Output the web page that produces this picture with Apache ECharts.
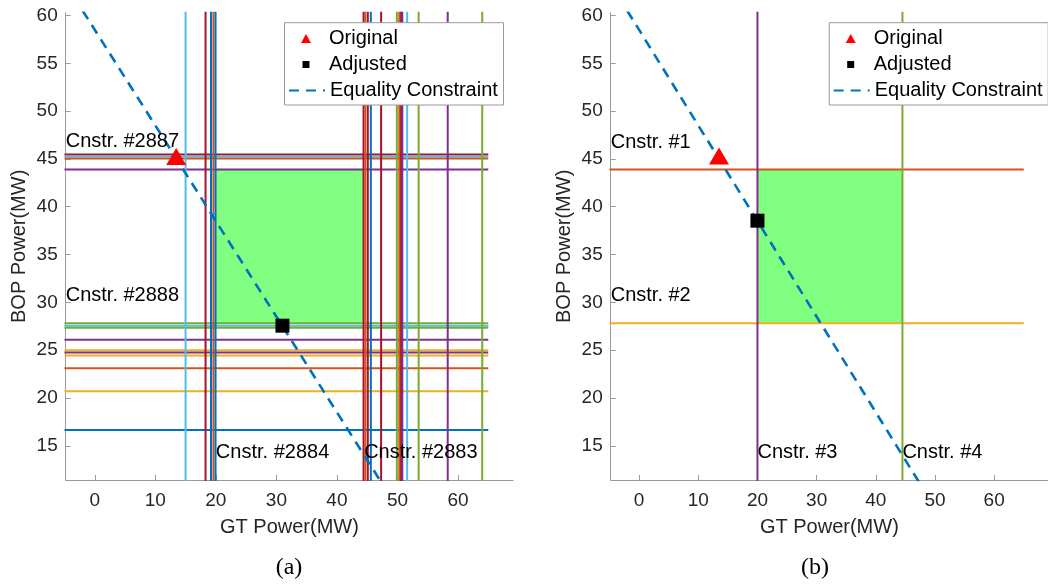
<!DOCTYPE html>
<html><head><meta charset="utf-8">
<script src="https://cdn.jsdelivr.net/npm/echarts@6/dist/echarts.min.js"></script>
<style>html,body{margin:0;padding:0;background:#fff}#c{width:1048px;height:584px}</style>
</head><body><div id="c"></div>
<script>
// ---------- data ----------
const xTicks = [0, 10, 20, 30, 40, 50, 60];
const yTicks = [15, 20, 25, 30, 35, 40, 45, 50, 55, 60];
const xRange = [-4.8, 69.1];
const yRange = [11.42, 60.29];
const hSpan = [-5, 65];          // GT extent of horizontal (BOP) constraint lines
const vSpan = [0, 61];           // BOP extent of vertical (GT) constraint lines
const eqLine = [[-2.0, 60.5], [47.6, 10.9]];   // GT + BOP = 58.5

// panel (a)
const aHoriz = [45.45, 45.25, 45.05, 43.9, 27.8, 27.55, 27.35, 26.1, 25.0, 24.75, 24.45, 23.1, 20.7, 16.65];
const aHorizColorKeys = ['darkred', 'lightblue', 'orange', 'purple', 'green', 'lightblue', 'green', 'purple', 'yellow', 'purple', 'yellow', 'orange', 'yellow', 'blue'];
const aVert = [15.0, 18.3, 19.2, 19.6, 19.95, 44.4, 44.7, 45.1, 45.6, 47.3, 49.9, 50.3, 50.6, 50.8, 51.6, 53.5, 58.3, 64.0];
const aVertColorKeys = ['lightblue', 'darkred', 'blue', 'orange', 'blue', 'darkred', 'orange', 'darkred', 'blue', 'darkred', 'green', 'orange', 'darkred', 'purple', 'lightblue', 'green', 'purple', 'green'];
const aFeasible = [20.0, 44.4, 27.8, 43.9];   // GT min, GT max, BOP min, BOP max
const aOriginal = [13.45, 45.25];
const aAdjusted = [31.0, 27.56];
const aLabels = [[-4.8, 46.8, 'Cnstr. #2887'], [-4.8, 30.75, 'Cnstr. #2888'], [20.0, 14.28, 'Cnstr. #2884'], [44.5, 14.28, 'Cnstr. #2883']];

// panel (b)
const bHoriz = [43.9, 27.8];
const bHorizColorKeys = ['orange', 'yellow'];
const bVert = [20.0, 44.5];
const bVertColorKeys = ['purple', 'green'];
const bFeasible = [20.0, 44.5, 27.8, 43.9];
const bOriginal = [13.5, 45.3];
const bAdjusted = [20.0, 38.54];
const bLabels = [[-4.8, 46.7, 'Cnstr. #1'], [-4.8, 30.67, 'Cnstr. #2'], [20.0, 14.28, 'Cnstr. #3'], [44.5, 14.28, 'Cnstr. #4']];

// ---------- style ----------
const COL = {blue:'#0072BD', orange:'#D95319', yellow:'#EDB120', purple:'#7E2F8E', green:'#77AC30', lightblue:'#4DBEEE', darkred:'#A2142F'};
const FONT = '"Liberation Sans", Arial, Helvetica, sans-serif';
const AXC = '#9a9a9a';
const TXT = '#262626';

const gridPos = [
  {left: 65.7, top: 12.7, width: 447.4, height: 467.3},
  {left: 610.7, top: 12.7, width: 447.4, height: 467.3}
];

function xAx(i) {
  return {
    type: 'value', gridIndex: i, min: xRange[0], max: xRange[1],
    name: 'GT Power(MW)', nameLocation: 'middle', nameGap: 37,
    nameTextStyle: {fontFamily: FONT, fontSize: 20, color: TXT},
    axisLine: {show: true, onZero: false, lineStyle: {color: AXC, width: 1}},
    axisTick: {show: true, inside: true, length: 5, lineStyle: {color: AXC}, customValues: xTicks},
    axisLabel: {show: true, fontFamily: FONT, fontSize: 19, color: TXT, margin: 11, customValues: xTicks},
    splitLine: {show: false}
  };
}
function yAx(i) {
  return {
    type: 'value', gridIndex: i, min: yRange[0], max: yRange[1],
    name: 'BOP Power(MW)', nameLocation: 'middle', nameGap: 36,
    nameTextStyle: {fontFamily: FONT, fontSize: 20, color: TXT},
    axisLine: {show: true, onZero: false, lineStyle: {color: AXC, width: 1}},
    axisTick: {show: true, inside: true, length: 5, lineStyle: {color: AXC}, customValues: yTicks},
    axisLabel: {show: true, fontFamily: FONT, fontSize: 19, color: TXT, margin: 8, customValues: yTicks},
    splitLine: {show: false}
  };
}

function panelSeries(gi, horiz, hKeys, vert, vKeys, feas, orig, adj, labels) {
  const s = [];
  s.push({
    type: 'custom', xAxisIndex: gi, yAxisIndex: gi, silent: true, z: 1, data: [feas],
    renderItem: (params, api) => {
      const p0 = api.coord([api.value(0), api.value(3)]);
      const p1 = api.coord([api.value(1), api.value(2)]);
      return {type: 'rect', shape: {x: p0[0], y: p0[1], width: p1[0] - p0[0], height: p1[1] - p0[1]}, style: {fill: '#80FF80'}};
    }
  });
  horiz.forEach((v, i) => s.push({
    type: 'line', name: 'h' + gi + '_' + i, xAxisIndex: gi, yAxisIndex: gi, silent: true, z: 2,
    data: [[hSpan[0], v], [hSpan[1], v]], symbol: 'none',
    lineStyle: {color: COL[hKeys[i]], width: 2}
  }));
  vert.forEach((v, i) => s.push({
    type: 'line', name: 'v' + gi + '_' + i, xAxisIndex: gi, yAxisIndex: gi, silent: true, z: 2,
    data: [[v, vSpan[0]], [v, vSpan[1]]], symbol: 'none',
    lineStyle: {color: COL[vKeys[i]], width: 2}
  }));
  s.push({
    type: 'line', name: 'Equality Constraint', xAxisIndex: gi, yAxisIndex: gi, silent: true, z: 3,
    data: eqLine, symbol: 'none', itemStyle: {color: '#0072BD'},
    lineStyle: {color: '#0072BD', width: 2.6, type: [10, 7]}
  });
  s.push({
    type: 'scatter', name: 'Original', xAxisIndex: gi, yAxisIndex: gi, silent: true, z: 4,
    data: [orig], symbol: 'triangle', symbolSize: [20, 17], itemStyle: {color: '#FF0000', opacity: 1}
  });
  s.push({
    type: 'scatter', name: 'Adjusted', xAxisIndex: gi, yAxisIndex: gi, silent: true, z: 4,
    data: [adj], symbol: 'rect', symbolSize: 14, itemStyle: {color: '#000000', opacity: 1}
  });
  s.push({
    type: 'scatter', name: 'lbl' + gi, xAxisIndex: gi, yAxisIndex: gi, silent: true, z: 6, clip: false,
    data: labels, symbolSize: 1, itemStyle: {color: 'rgba(0,0,0,0)', opacity: 1},
    label: {show: true, position: 'inside', align: 'left', verticalAlign: 'middle', opacity: 1,
      formatter: p => p.value[2], fontFamily: FONT, fontSize: 20, color: '#000000'}
  });
  return s;
}

const boxLeft = [284, 828.7];
const rowCenters = [38.5, 64.5, 90.5];
const legendItems = [
  {name: 'Original', icon: 'triangle', w: 10, h: 9},
  {name: 'Adjusted', icon: 'rect', w: 7, h: 7},
  {name: 'Equality Constraint', icon: null, w: 36, h: 12}
];
const iconCentre = 22, textStart = 45;
const legends = [];
boxLeft.forEach(bl => {
  legendItems.forEach((it, k) => {
    const d = {name: it.name};
    if (it.icon) d.icon = it.icon; else d.itemStyle = {opacity: 0, color: 'rgba(0,0,0,0)', borderWidth: 0};
    const left = bl + iconCentre - it.w / 2;
    const pad = textStart - (iconCentre - it.w / 2) - it.w - 5;
    legends.push({
      show: true, orient: 'vertical', left: left, top: rowCenters[k] - 12,
      padding: 0, itemGap: 0, itemWidth: it.w, itemHeight: it.h, selectedMode: false, z: 20,
      formatter: name => '{p|}' + name,
      textStyle: {fontFamily: FONT, fontSize: 20, color: '#000', lineHeight: 24,
        rich: {p: {width: Math.max(0, pad), fontSize: 20, lineHeight: 24}}},
      data: [d]
    });
  });
});

const option = {
  animation: false,
  backgroundColor: '#ffffff',
  grid: gridPos,
  xAxis: [xAx(0), xAx(1)],
  yAxis: [yAx(0), yAx(1)],
  legend: legends,
  series: [].concat(
    panelSeries(0, aHoriz, aHorizColorKeys, aVert, aVertColorKeys, aFeasible, aOriginal, aAdjusted, aLabels),
    panelSeries(1, bHoriz, bHorizColorKeys, bVert, bVertColorKeys, bFeasible, bOriginal, bAdjusted, bLabels)
  ),
  graphic: [
    {type: 'rect', z: 15, silent: true, shape: {x: boxLeft[0] + 0.5, y: 22.7, width: 219, height: 82.3}, style: {fill: '#fff', stroke: '#9a9a9a', lineWidth: 1}},
    {type: 'rect', z: 15, silent: true, shape: {x: boxLeft[1] + 0.5, y: 22.7, width: 219, height: 82.3}, style: {fill: '#fff', stroke: '#9a9a9a', lineWidth: 1}},
    {type: 'text', z: 15, silent: true, x: 289, y: 568, style: {text: '(a)', align: 'center', verticalAlign: 'middle', textAlign: 'center', textVerticalAlign: 'middle', font: '24px "Liberation Serif", "DejaVu Serif", serif', fill: '#000'}},
    {type: 'text', z: 15, silent: true, x: 815, y: 568, style: {text: '(b)', align: 'center', verticalAlign: 'middle', textAlign: 'center', textVerticalAlign: 'middle', font: '24px "Liberation Serif", "DejaVu Serif", serif', fill: '#000'}}
  ]
};

const chart = echarts.init(document.getElementById('c'), null, {renderer: 'canvas'});
chart.setOption(option);
</script>
</body></html>
